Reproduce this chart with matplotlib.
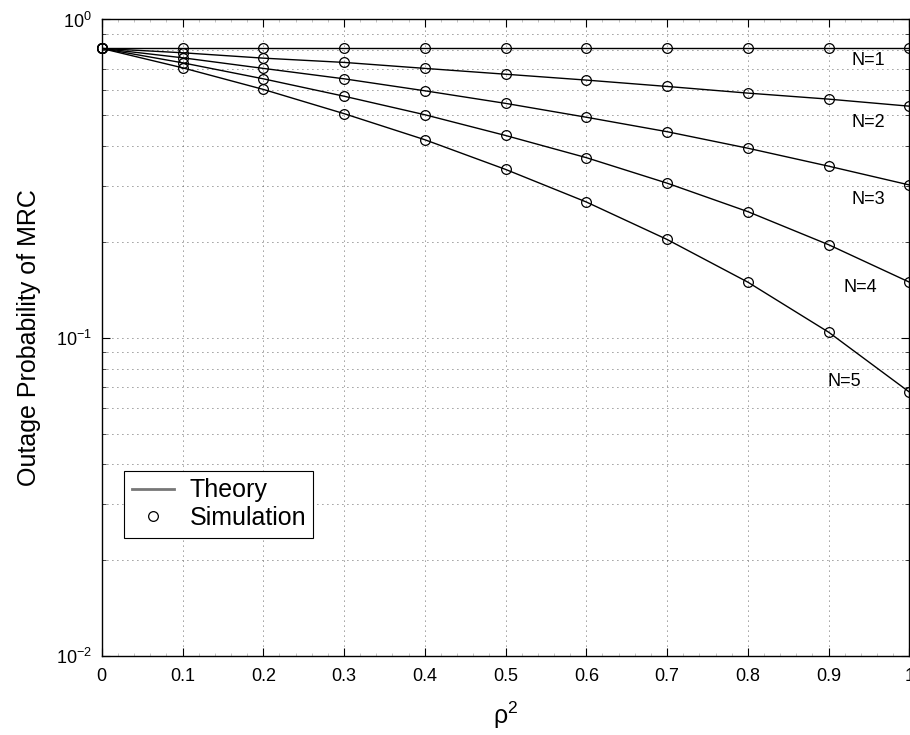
import numpy as np
import matplotlib
matplotlib.use('Agg')
import matplotlib.pyplot as plt
from matplotlib.lines import Line2D
from matplotlib.ticker import MultipleLocator, LogLocator, NullFormatter

plt.rcParams['font.family'] = ['Liberation Sans', 'DejaVu Sans']
plt.rcParams['mathtext.fontset'] = 'custom'
plt.rcParams['mathtext.rm'] = 'Liberation Sans'
plt.rcParams['mathtext.it'] = 'Liberation Sans:italic'
plt.rcParams['mathtext.bf'] = 'Liberation Sans:bold'

# rho^2 values
rho2 = [0.0, 0.1, 0.2, 0.3, 0.4, 0.5, 0.6, 0.7, 0.8, 0.9, 1.0]
xtick_labels = ['0', '0.1', '0.2', '0.3', '0.4', '0.5', '0.6', '0.7', '0.8', '0.9', '1']

# outage probability, one list per N
p_n1 = [0.811, 0.811, 0.811, 0.811, 0.811, 0.811, 0.811, 0.811, 0.811, 0.811, 0.811]
p_n2 = [0.811, 0.786, 0.756, 0.733, 0.702, 0.673, 0.645, 0.616, 0.587, 0.562, 0.534]
p_n3 = [0.811, 0.758, 0.702, 0.651, 0.597, 0.545, 0.493, 0.444, 0.394, 0.346, 0.302]
p_n4 = [0.811, 0.731, 0.651, 0.574, 0.502, 0.432, 0.368, 0.306, 0.249, 0.196, 0.1495]
p_n5 = [0.811, 0.705, 0.603, 0.506, 0.419, 0.338, 0.267, 0.2036, 0.1495, 0.1041, 0.0675]
curves = [p_n1, p_n2, p_n3, p_n4, p_n5]
names = ['N=1', 'N=2', 'N=3', 'N=4', 'N=5']

fig = plt.figure(figsize=(9.1, 7.35), dpi=100)
ax = fig.add_axes([0.1118, 0.1075, 0.8875, 0.866])

for p in curves:
    ax.semilogy(rho2, p, '-', color='black', lw=1.0)
    ax.semilogy(rho2, p, 'o', mfc='none', mec='black', ms=7, mew=0.9,
                clip_on=False, zorder=4)

# curve labels
lab_pos = [(0.949, 0.743), (0.949, 0.475), (0.949, 0.272), (0.939, 0.1439), (0.920, 0.0729)]
for (lx, ly), nm in zip(lab_pos, names):
    ax.text(lx, ly, nm, fontsize=13, ha='center', va='center')

ax.set_xlim(0, 1)
ax.set_ylim(1e-2, 1e0)
ax.set_xticks(rho2, xtick_labels)
ax.xaxis.set_minor_locator(MultipleLocator(0.02))
ax.yaxis.set_major_locator(LogLocator(base=10))
ax.yaxis.set_minor_locator(LogLocator(base=10, subs=np.arange(2, 10)))
ax.yaxis.set_minor_formatter(NullFormatter())

ax.tick_params(which='both', direction='in', top=True, right=True, labelsize=13)
ax.tick_params(which='major', length=6, width=0.8)
ax.tick_params(axis='x', which='major', pad=9)
ax.tick_params(axis='y', which='major', pad=7)
ax.tick_params(which='minor', length=3, width=0.5)
ax.tick_params(axis='x', which='minor', length=2, width=0.4, colors='#999999')

ax.grid(which='major', axis='x', linestyle=(0, (1, 5)), color='#333333', lw=0.6)
ax.grid(which='both', axis='y', linestyle=(0, (1, 5)), color='#333333', lw=0.6)
for s in ax.spines.values():
    s.set_linewidth(1.0)

ax.set_xlabel('ρ$^2$', fontsize=18, labelpad=10)
ax.set_ylabel('Outage Probability of MRC', fontsize=18, labelpad=11)

handles = [Line2D([], [], color='#777777', lw=2.0),
           Line2D([], [], ls='none', marker='o', mfc='none', mec='black', ms=7, mew=0.9)]
leg = ax.legend(handles, ['Theory', 'Simulation'], loc='upper left',
                bbox_to_anchor=(0.028, 0.291), borderaxespad=0, fontsize=18,
                fancybox=False, framealpha=1, edgecolor='black',
                handlelength=1.7, handletextpad=0.6, labelspacing=0.15,
                borderpad=0.3)
leg.get_frame().set_linewidth(0.8)

fig.savefig('out.png', dpi=100)
